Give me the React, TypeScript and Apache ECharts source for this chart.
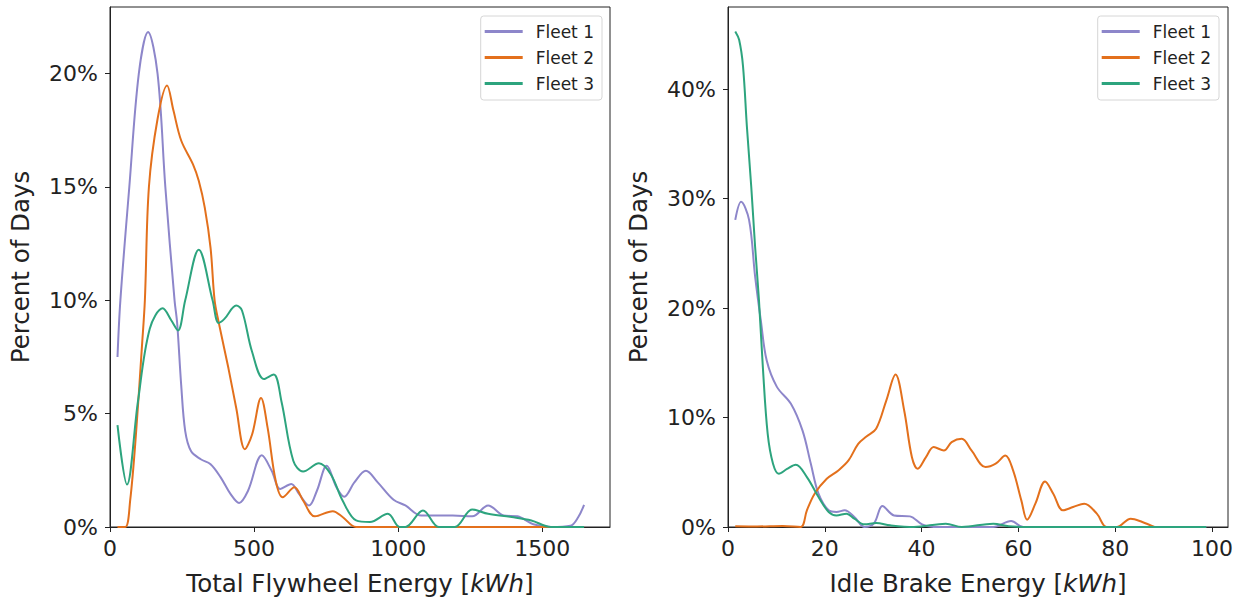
import React, { useEffect, useRef } from "react";
import * as echarts from "echarts";

const fleetNames = ["Fleet 1", "Fleet 2", "Fleet 3"];
const fleetColors = ["#8d86ca", "#e3701c", "#2da47e"];

// Left panel: Total Flywheel Energy [kWh] vs Percent of Days
const flywheelFleet1: [number, number][] = [
  [26, 7.5], [36, 10], [67, 15], [100, 20], [132, 21.84], [165, 20], [192, 15], [224, 10],
  [233, 9], [247, 6.27], [261, 4.23], [281, 3.35], [315, 2.99], [349, 2.77], [384, 2.19],
  [418, 1.46], [448, 1.06], [479, 1.6], [527, 3.16], [561, 2.48], [591, 1.68], [629, 1.9],
  [656, 1.46], [691, 0.95], [718, 1.6], [752, 2.7], [786, 1.75], [813, 1.34], [848, 1.97],
  [888, 2.48], [929, 1.97], [984, 1.2], [1025, 0.95], [1080, 0.51], [1189, 0.51], [1257, 0.47],
  [1312, 0.95], [1366, 0.51], [1414, 0.47], [1469, 0.12], [1530, 0], [1598, 0.06], [1625, 0.44],
  [1645, 0.98],
];
const flywheelFleet2: [number, number][] = [
  [26, 0], [53, 0], [70, 1.17], [90, 4.08], [111, 8.0], [121, 10], [135, 15], [165, 18],
  [198, 19.48], [220, 18.38], [247, 17.05], [288, 16.0], [308, 15.27], [329, 14.08], [349, 12.3],
  [363, 10], [377, 9.04], [411, 7.0], [438, 5.25], [468, 3.43], [493, 4.08], [524, 5.69],
  [547, 4.37], [575, 2.04], [599, 1.31], [640, 1.75], [670, 1.17], [711, 0.47], [773, 0.7],
  [807, 0.44], [854, 0], [1000, 0], [1300, 0], [1645, 0],
];
const flywheelFleet3: [number, number][] = [
  [26, 4.49], [59, 1.87], [97, 5.54], [138, 8.75], [183, 9.65], [213, 9.11], [236, 8.67],
  [261, 10.0], [308, 12.23], [356, 10.0], [377, 9.0], [397, 9.18], [438, 9.77], [458, 9.55],
  [493, 7.73], [534, 6.53], [568, 6.73], [595, 5.54], [636, 2.92], [670, 2.45], [725, 2.81],
  [766, 2.33], [807, 1.17], [854, 0.29], [902, 0.22], [964, 0.58], [1005, 0], [1025, 0],
  [1086, 0.73], [1141, 0], [1196, 0], [1257, 0.77], [1312, 0.58], [1394, 0.44], [1462, 0.29],
  [1530, 0], [1645, 0],
];

// Right panel: Idle Brake Energy [kWh] vs Percent of Days
const idleFleet1: [number, number][] = [
  [1.5, 28.05], [2.7, 29.7], [4.35, 28.05], [5.6, 22.9], [6.8, 18.8], [8.0, 15.2], [10.1, 12.8],
  [13.0, 11.25], [15.4, 8.8], [17.1, 5.8], [18.7, 3.04], [20.8, 1.52], [22.4, 1.37], [24.1, 1.52],
  [26.1, 0.91], [28.2, 0], [30.2, 0.36], [31.9, 1.91], [34.3, 1.06], [37.6, 0.97], [40.1, 0.24],
  [42.5, 0], [54.8, 0], [58.5, 0.55], [61, 0], [80, 0], [98.8, 0],
];
const idleFleet2: [number, number][] = [
  [1.5, 0.06], [6, 0.05], [11.3, 0.1], [15, 0], [16.3, 1.52], [17.9, 3.04], [20.4, 4.4],
  [22.8, 5.17], [24.9, 6.08], [26.9, 7.6], [28.6, 8.27], [30.6, 8.97], [32.7, 11.55],
  [34.6, 13.92], [36.4, 10.64], [38.0, 6.38], [39.2, 5.32], [40.9, 6.38], [42.5, 7.3],
  [44.6, 6.99], [46.2, 7.75], [48.3, 8.05], [50.3, 6.99], [53.2, 5.47], [55.3, 5.78],
  [57.3, 6.53], [58.9, 5.17], [60.6, 2.43], [61.8, 0.67], [63.5, 2.13], [65.5, 4.16],
  [67.2, 3.04], [69.2, 1.52], [71.3, 1.82], [73.6, 2.13], [76.2, 1.22], [78.2, 0], [80.3, 0],
  [83.2, 0.76], [85.6, 0.46], [88.1, 0],
];
const idleFleet3: [number, number][] = [
  [1.5, 45.27], [2.3, 44.5], [3.1, 42.1], [3.9, 36.6], [4.8, 31.1], [5.6, 25.6], [6.4, 20.7],
  [7.2, 14.6], [8.2, 8.5], [9.3, 5.78], [10.5, 4.86], [12.2, 5.3], [14.0, 5.68], [16.3, 4.56],
  [18.7, 2.74], [20.8, 1.37], [22.4, 1.06], [24.5, 1.22], [26.1, 0.76], [28.2, 0.24],
  [30.6, 0.36], [33.5, 0.15], [38.4, 0], [45, 0.3], [48.3, 0], [54.8, 0.3], [58, 0.06],
  [62, 0], [80, 0], [98.8, 0],
];

const leftXTicks = [0, 500, 1000, 1500];
const leftYTicks = [0, 5, 10, 15, 20];
const rightXTicks = [0, 20, 40, 60, 80, 100];
const rightYTicks = [0, 10, 20, 30, 40];

const FONT = "DejaVu Sans";
const TXT = "#222";
const TICK_FS = 22;
const NAME_FS = 24.5;

function axisX(gridIndex: number, max: number, interval: number, ticks: number[], label: string) {
  return {
    type: "value",
    gridIndex,
    min: 0,
    max,
    interval,
    name: label,
    nameLocation: "middle",
    nameGap: 44,
    nameTextStyle: {
      fontFamily: FONT,
      fontSize: NAME_FS,
      color: TXT,
      rich: { i: { fontFamily: FONT, fontSize: NAME_FS, color: TXT, fontStyle: "italic" } },
    },
    axisLine: { show: true, onZero: false, lineStyle: { color: "#222", width: 1 } },
    axisTick: { show: true, length: 5, customValues: ticks, lineStyle: { color: "#222" } },
    axisLabel: {
      customValues: ticks,
      margin: 10,
      fontFamily: FONT,
      fontSize: TICK_FS,
      color: TXT,
      formatter: (v: number) => (ticks.includes(v) ? String(v) : ""),
    },
    splitLine: { show: false },
  };
}

function axisY(gridIndex: number, max: number, interval: number, ticks: number[]) {
  return {
    type: "value",
    gridIndex,
    min: 0,
    max,
    interval,
    name: "Percent of Days",
    nameLocation: "middle",
    nameGap: 77,
    nameTextStyle: { fontFamily: FONT, fontSize: NAME_FS, color: TXT },
    axisLine: { show: true, onZero: false, lineStyle: { color: "#222", width: 1 } },
    axisTick: { show: true, length: 5, customValues: ticks, lineStyle: { color: "#222" } },
    axisLabel: {
      customValues: ticks,
      margin: 12,
      fontFamily: FONT,
      fontSize: TICK_FS,
      color: TXT,
      formatter: (v: number) => (ticks.includes(v) ? v + "%" : ""),
    },
    splitLine: { show: false },
  };
}

function legendAt(right: number) {
  return {
    data: fleetNames,
    orient: "vertical",
    right,
    top: 16,
    icon: "rect",
    itemWidth: 38,
    itemHeight: 3,
    itemGap: 9,
    padding: [7, 8, 8, 4],
    borderColor: "#d6d6d6",
    borderWidth: 1,
    borderRadius: 3,
    backgroundColor: "#fff",
    selectedMode: false,
    textStyle: { fontFamily: FONT, fontSize: 17, lineHeight: 17, color: TXT, padding: [0, 0, 0, 8] },
  };
}

function line(name: string, color: string, data: [number, number][], gi: number) {
  return {
    type: "line",
    name,
    xAxisIndex: gi,
    yAxisIndex: gi,
    data,
    smooth: 0.35,
    symbol: "none",
    showSymbol: false,
    lineStyle: { color, width: 2 },
    itemStyle: { color },
  };
}

export default function App() {
  const ref = useRef<HTMLDivElement>(null);
  useEffect(() => {
    if (!ref.current) return;
    const chart = echarts.init(ref.current, undefined, { renderer: "svg" });
    chart.setOption({
      animation: false,
      backgroundColor: "#fff",
      textStyle: { fontFamily: FONT },
      grid: [
        { left: 110, top: 7, width: 500, height: 520, show: true, borderColor: "#222", borderWidth: 1, backgroundColor: "transparent" },
        { left: 728, top: 7, width: 500, height: 520, show: true, borderColor: "#222", borderWidth: 1, backgroundColor: "transparent" },
      ],
      xAxis: [
        axisX(0, 1735, 500, leftXTicks, "Total Flywheel Energy [{i|kWh}]"),
        axisX(1, 103.3, 20, rightXTicks, "Idle Brake Energy [{i|kWh}]"),
      ],
      yAxis: [axisY(0, 22.94, 5, leftYTicks), axisY(1, 47.5, 10, rightYTicks)],
      legend: [legendAt(640), legendAt(23)],
      series: [
        line(fleetNames[0], fleetColors[0], flywheelFleet1, 0),
        line(fleetNames[1], fleetColors[1], flywheelFleet2, 0),
        line(fleetNames[2], fleetColors[2], flywheelFleet3, 0),
        line(fleetNames[0], fleetColors[0], idleFleet1, 1),
        line(fleetNames[1], fleetColors[1], idleFleet2, 1),
        line(fleetNames[2], fleetColors[2], idleFleet3, 1),
      ],
    });
    return () => chart.dispose();
  }, []);
  return (
    <div
      ref={ref}
      style={{ position: "fixed", left: 0, top: 0, width: 1242, height: 602, background: "#fff" }}
    />
  );
}
